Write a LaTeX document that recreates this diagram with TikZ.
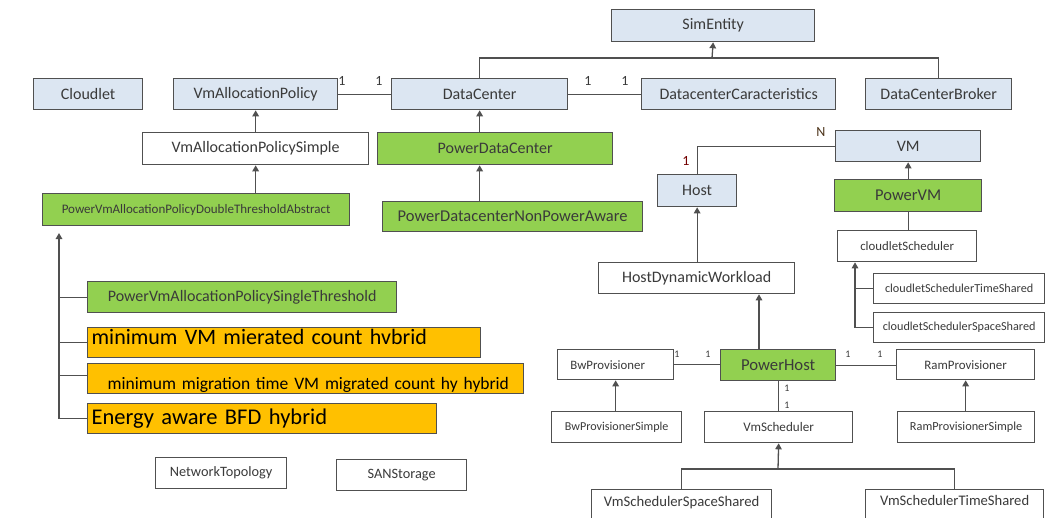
\documentclass[tikz,border=0pt]{standalone}
\usepackage{fontspec}
\setmainfont{Carlito}
\usetikzlibrary{arrows.meta,calc}

\definecolor{boxblue}{HTML}{DCE6F2}
\definecolor{boxgreen}{HTML}{92D050}
\definecolor{boxorange}{HTML}{FFC000}
\definecolor{edge}{HTML}{505050}
\definecolor{ink}{HTML}{3A3A3A}

\newcommand\fs[1]{\fontsize{#1}{#1}\selectfont}

\tikzset{
  cls/.style={draw=edge, line width=1.3pt, inner sep=0pt, anchor=north west,
              text=ink, font=\fs{16}},
  plain/.style={cls, fill=white},
  base/.style={cls, fill=boxblue},
  power/.style={cls, fill=boxgreen},
  hybrid/.style={cls, fill=boxorange, text=black, align=left, inner xsep=4pt},
  link/.style={draw=edge, line width=1.3pt},
  tip/.tip={Triangle[length=6pt,width=6.5pt]},
  inherit/.style={link, -tip},
  mult/.style={text=ink, font=\fs{14}, inner sep=0pt},
  smallmult/.style={text=ink, font=\fs{10}, inner sep=0pt},
}

\begin{document}
\begin{tikzpicture}[x=1pt,y=-1pt]
\fill[white] (0,0) rectangle (1059,517);
\useasboundingbox (0,0) rectangle (1059,517);

% top row
\node[base, minimum width=203, minimum height=32] (sim) at (611,9) {SimEntity};
\node[base, minimum width=109, minimum height=31] (cloudlet) at (33,78) {Cloudlet};
\node[base, minimum width=164, minimum height=31] (vmap) at (173,78) {VmAllocationPolicy};
\node[base, minimum width=176, minimum height=31] (dc) at (391,78) {DataCenter};
\node[base, minimum width=194, minimum height=31] (dcc) at (641,78) {DatacenterCaracteristics};
\node[base, minimum width=146, minimum height=31] (dcb) at (865,78) {DataCenterBroker};

% allocation policies and datacenters
\node[plain, minimum width=226, minimum height=32] (vmaps) at (142,132) {VmAllocationPolicySimple};
\node[power, minimum width=235, minimum height=32] (pdc) at (377,132) {PowerDataCenter};
\node[power, minimum width=307, minimum height=32, font=\fs{13}] (pdt) at (42,193) {PowerVmAllocationPolicyDoubleThresholdAbstract};
\node[power, minimum width=260, minimum height=30, font=\fs{16.5}] (pdnpa) at (382,201) {PowerDatacenterNonPowerAware};
\node[power, minimum width=309, minimum height=31] (pst) at (87,281) {PowerVmAllocationPolicySingleThreshold};

% hybrid policies
\node[hybrid, minimum width=393, minimum height=30, text width=385, font=\fs{22},
      text height=17, text depth=13] (hy1) at (87,327) {minimum VM mierated count hvbrid};
\node[hybrid, minimum width=436, minimum height=30, text width=428, font=\fs{17.5},
      text height=26, text depth=4] (hy2) at (87,363) {\hspace*{16pt}minimum migration time VM migrated count hy hybrid};
\node[hybrid, minimum width=349, minimum height=30, text width=341, font=\fs{22.5},
      text height=21, text depth=9] (hy3) at (87,403) {Energy aware BFD hybrid};

\node[plain, minimum width=131, minimum height=31, font=\fs{14.3}] (net) at (155,457) {NetworkTopology};
\node[plain, minimum width=130, minimum height=31, font=\fs{14.3}] (san) at (336,459) {SANStorage};

% hosts and vms
\node[base, minimum width=145, minimum height=31] (vm) at (835,130) {VM};
\node[base, minimum width=79, minimum height=32] (host) at (657,174) {Host};
\node[power, minimum width=147, minimum height=32, font=\fs{16.5}] (pvm) at (834,179) {PowerVM};
\node[plain, minimum width=139, minimum height=31, font=\fs{12.8}] (cs) at (837,230) {cloudletScheduler};
\node[plain, minimum width=196, minimum height=31] (hdw) at (598,262) {HostDynamicWorkload};
\node[plain, minimum width=171, minimum height=30, font=\fs{12.2}] (cst) at (873,273) {cloudletSchedulerTimeShared};
\node[plain, minimum width=171, minimum height=30, font=\fs{12.2}] (css) at (873,312) {cloudletSchedulerSpaceShared};

\node[power, minimum width=115, minimum height=31, font=\fs{16.7}] (ph) at (720,349) {PowerHost};
\node[plain, minimum width=116, minimum height=30, font=\fs{12.8}] (bw) at (557,349) {BwProvisioner\hspace*{16pt}};
\node[plain, minimum width=138, minimum height=30, font=\fs{12.9}] (ram) at (896,349) {RamProvisioner};
\node[plain, minimum width=130, minimum height=31, font=\fs{12.1}] (bws) at (551,411) {BwProvisionerSimple};
\node[plain, minimum width=148, minimum height=31, font=\fs{13.1}] (vms) at (704,411) {VmScheduler};
\node[plain, minimum width=137, minimum height=31, font=\fs{12.3}] (rams) at (897,411) {RamProvisionerSimple};
\node[plain, minimum width=180, minimum height=36, font=\fs{14.7}, text height=12, text depth=14] (vmss) at (591,489) {VmSchedulerSpaceShared};
\node[plain, minimum width=178, minimum height=36, font=\fs{14.6}, text height=11, text depth=15] (vmts) at (865,489) {VmSchedulerTimeShared};

% multiplicities
\node[mult] (m1) at (342,81) {1};
\node[mult] (m2) at (379,81) {1};
\node[mult] (m3) at (588,81) {1};
\node[mult] (m4) at (625,81) {1};
\node[mult, text=black!60!brown] (mN) at (821,132) {N};
\node[mult, text=black!55!red] (mH) at (686,161) {1};
\node[smallmult] (m5) at (677,354) {1};
\node[smallmult] (m6) at (708,354) {1};
\node[smallmult] (m7) at (848,354) {1};
\node[smallmult] (m8) at (880,354) {1};
\node[smallmult] (m9) at (787,388) {1};
\node[smallmult] (m10) at (787,405) {1};

% SimEntity hierarchy
\coordinate (simj) at (712,58);
\draw[inherit] (simj) -- (sim.south);
\draw[link] (dc.north) |- (simj) -| (dcb.north);

% associations of DataCenter
\draw[link] (vmap.east) -- (dc.west);
\draw[link] (dc.east) -- (dcc.west);

% allocation policy and datacenter inheritance
\draw[inherit] (vmaps.north) -- (vmap.south);
\draw[inherit] (dc.south |- pdc.north) -- (dc.south);
\draw[inherit] (dc.south |- pdnpa.north) -- (dc.south |- pdc.south);
\draw[inherit] (vmaps.south |- pdt.north) -- (vmaps.south);

% policies derived from the double threshold abstraction
\coordinate (ltop) at (59,233);
\draw[link, tip-] (ltop) |- (hy3.west);
\draw[link] (pst.west -| ltop) -- (pst.west);
\draw[link] (hy1.west -| ltop) -- (hy1.west);
\draw[link] ([yshift=3pt]hy2.west -| ltop) -- ([yshift=3pt]hy2.west);

% host / vm side
\draw[link] (host.north) |- (vm.west);
\draw[inherit] (pvm.north) -- (vm.south);
\draw[link] (pvm.south) -- (pvm.south |- cs.north);
\coordinate (csx) at (855,0);
\draw[link, tip-] (cs.south -| csx) |- (css.west);
\draw[link] (cst.west -| csx) -- (cst.west);
\draw[inherit] (host.south |- hdw.north) -- (host.south);
\coordinate (phx) at (759,0);
\draw[inherit] (ph.north -| phx) -- (hdw.south -| phx);

% provisioners and scheduler
\draw[link] (bw.east) -- (bw.east -| ph.west);
\draw[link] (ph.east) -- (ph.east -| ram.west);
\draw[link] (ph.south) -- (ph.south |- vms.north);
\draw[inherit] (bw.south |- bws.north) -- (bw.south);
\draw[inherit] (ram.south |- rams.north) -- (ram.south);
\coordinate (vmsj) at (778,469);
\draw[inherit] (vmsj) -- (vms.south);
\draw[link] (vmss.north) |- (vmsj) -| (vmts.north);
\end{tikzpicture}
\end{document}
